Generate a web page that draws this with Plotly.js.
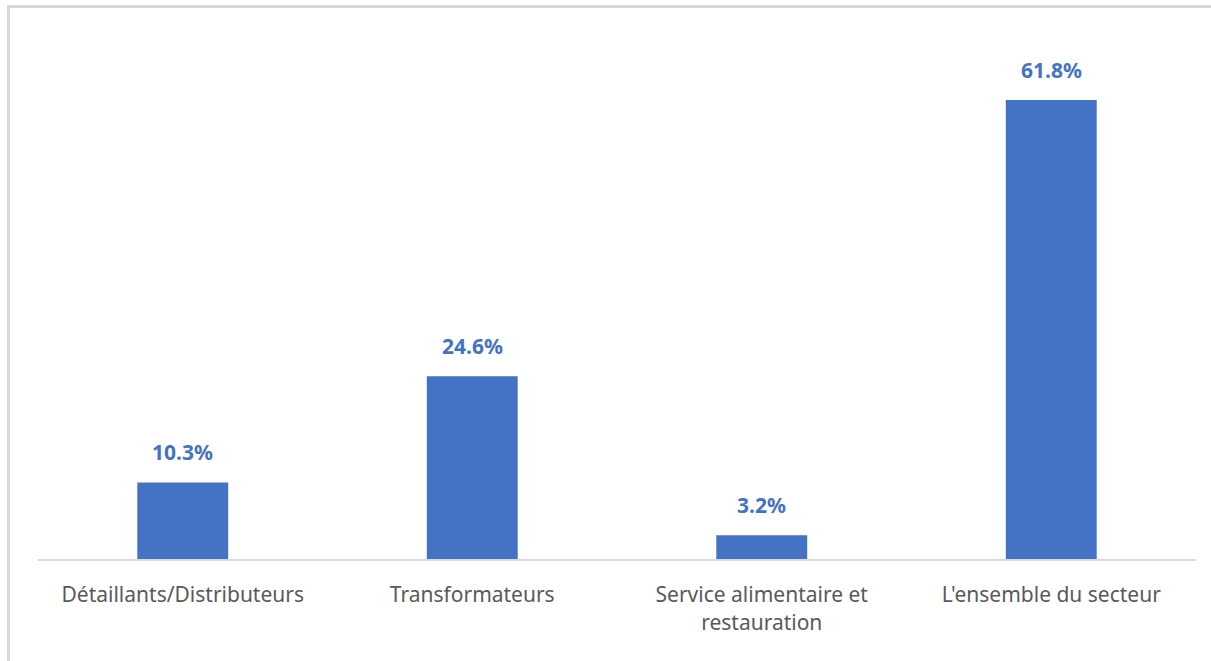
<!DOCTYPE html>
<html>
<head>
<meta charset="utf-8">
<script src="https://cdn.plot.ly/plotly-3.0.1.min.js"></script>
<style>
html,body{margin:0;padding:0;background:#fff;overflow:hidden;}
#wrap{position:relative;width:1211px;height:661px;}
#chart{width:1211px;height:661px;}
#frame{position:absolute;left:7px;top:5px;width:1204px;height:656px;border-top:3px solid #d9d9d9;border-left:3px solid #d9d9d9;box-sizing:border-box;pointer-events:none;}
</style>
</head>
<body>
<div id="wrap"><div id="chart"></div><div id="frame"></div></div>
<script>
const categories = ["Détaillants/Distributeurs", "Transformateurs", "Service alimentaire et restauration", "L'ensemble du secteur"];
const tickLabels = ["Détaillants/Distributeurs", "Transformateurs", "Service alimentaire et<br>restauration", "L'ensemble du secteur"];
const values = [10.3, 24.6, 3.2, 61.8];
const valueLabels = values.map(v => v.toFixed(1) + "%");

const trace = {
  type: "bar",
  x: categories,
  y: values,
  marker: {color: "#4472C4"},
  hoverinfo: "x+y"
};

const annotations = categories.map((c, i) => ({
  x: c, y: values[i], xref: "x", yref: "y",
  text: valueLabels[i], showarrow: false,
  yanchor: "bottom", yshift: 14,
  font: {family: "Noto Sans, sans-serif", size: 21, color: "#4472C4", weight: "bold"}
}));

const layout = {
  width: 1211, height: 661,
  margin: {l: 38, r: 15, t: 39, b: 102},
  paper_bgcolor: "#fff", plot_bgcolor: "#fff",
  bargap: 0.686,
  showlegend: false,
  xaxis: {
    type: "category",
    tickvals: categories, ticktext: tickLabels,
    showline: true, linecolor: "#d9d9d9", linewidth: 2,
    ticks: "", showgrid: false, zeroline: false,
    ticklabelstandoff: 16,
    tickfont: {family: "Noto Sans, sans-serif", size: 21, color: "#595959"}
  },
  yaxis: {
    range: [0, 70], visible: false, showgrid: false, zeroline: false, fixedrange: true
  },
  annotations: annotations
};

Plotly.newPlot("chart", [trace], layout, {displayModeBar: false, staticPlot: true});
</script>
</body>
</html>
